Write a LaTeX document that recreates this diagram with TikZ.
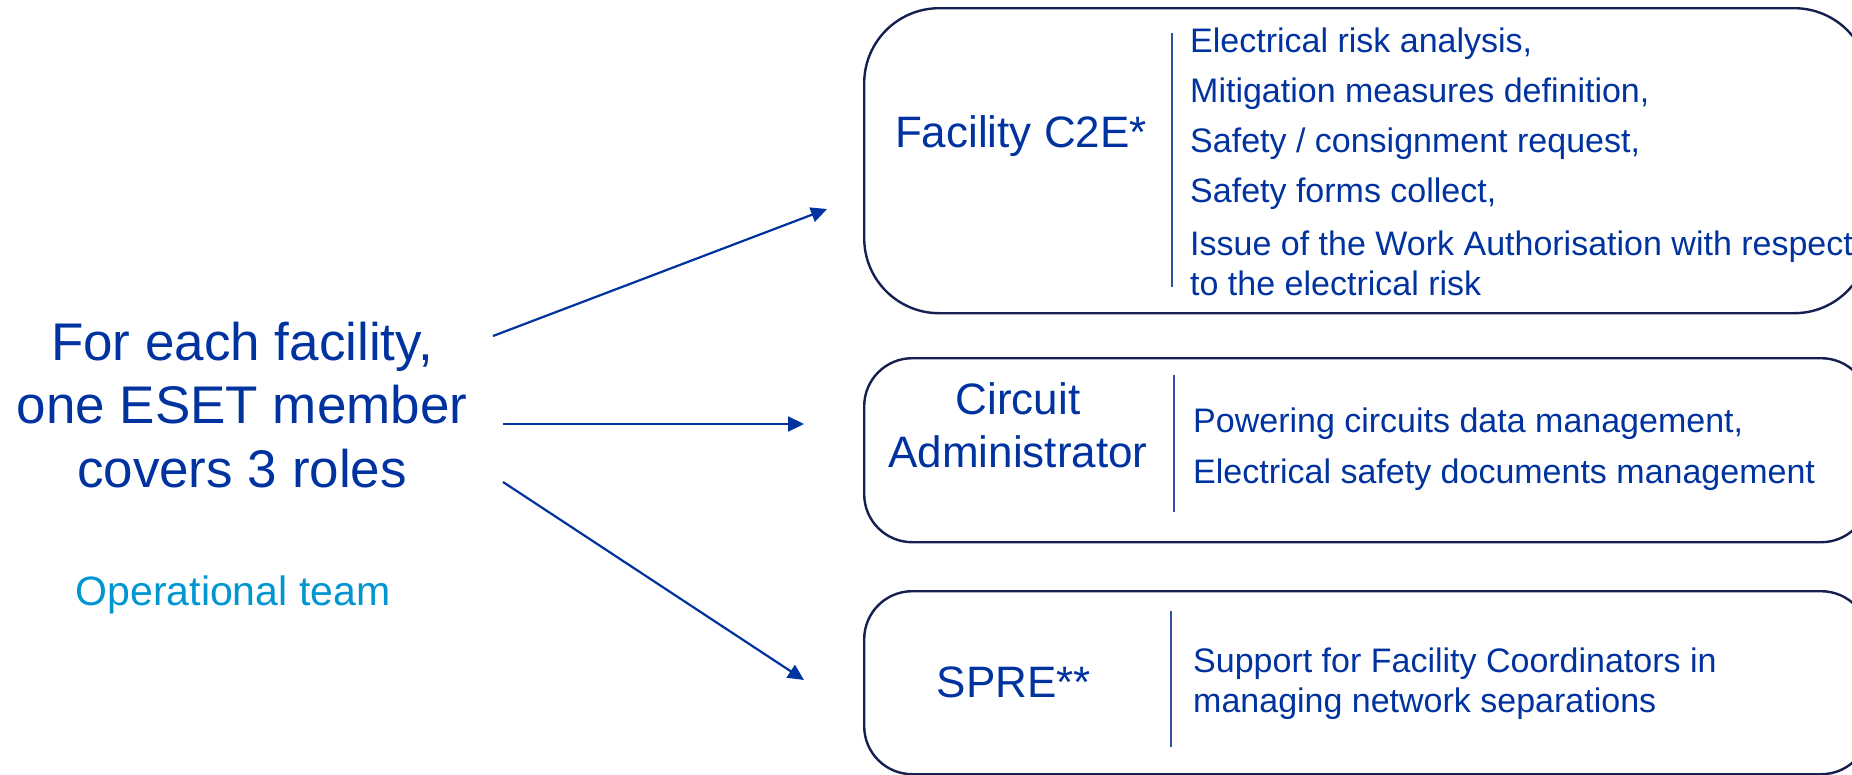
\documentclass[tikz,border=0pt]{standalone}
\usepackage{fontspec}
\setmainfont{Liberation Sans}
\usetikzlibrary{arrows.meta}
\definecolor{txtblue}{RGB}{0,51,160}
\definecolor{lightblue}{RGB}{0,150,210}
\definecolor{boxnavy}{RGB}{22,32,80}
\definecolor{divblue}{RGB}{50,80,165}
\tikzset{
  rolebox/.style={draw=boxnavy, line width=2.4pt, inner sep=0pt, anchor=north west, minimum width=1005pt},
  divider/.style={draw=divblue, line width=1.4pt},
  item/.style={text=txtblue, inner sep=0pt, anchor=base west, font=\fontsize{34}{40}\selectfont},
  title/.style={text=txtblue, inner sep=0pt, anchor=base, font=\fontsize{44}{52}\selectfont},
  lead/.style={text=txtblue, inner sep=0pt, anchor=base, font=\fontsize{53}{63}\selectfont},
  conn/.style={draw=txtblue, line width=2.2pt, -{Triangle[length=16pt,width=15pt]}}
}
\begin{document}
\begin{tikzpicture}[x=1pt,y=-1pt]
\useasboundingbox (0,0) rectangle (1852,774);
\fill[white] (0,0) rectangle (1852,774);
\begin{scope}
\clip (0,0) rectangle (1852,774);
% boxes
\node[rolebox, rounded corners=75pt, minimum height=305pt] (box1) at (863,7) {};
\node[rolebox, rounded corners=48pt, minimum height=184pt] (box2) at (863,357) {};
\node[rolebox, rounded corners=48pt, minimum height=183pt] (box3) at (863,590) {};
% dividers
\draw[divider] (1172,33) -- (1172,287);
\draw[divider] (1174,375) -- (1174,512);
\draw[divider] (1171,611) -- (1171,747);
% titles
\node[title] (t1) at (1021,147) {Facility C2E*};
\node[title] (t2a) at (1018,414) {Circuit};
\node[title] (t2b) at (1018,467) {Administrator};
\node[title] (t3) at (1014,697) {SPRE**};
% box 1 items
\node[item] (i11) at (1190,52) {Electrical risk analysis,};
\node[item] (i12) at (1190,102) {Mitigation measures definition,};
\node[item] (i13) at (1190,152) {Safety / consignment request,};
\node[item] (i14) at (1190,202) {Safety forms collect,};
\node[item] (i15) at (1190,255) {Issue of the Work Authorisation with respect};
\node[item] (i16) at (1190,295) {to the electrical risk};
% box 2 items
\node[item] (i21) at (1193,432) {Powering circuits data management,};
\node[item] (i22) at (1193,483) {Electrical safety documents management};
% box 3 items
\node[item] (i31) at (1193,672) {Support for Facility Coordinators in};
\node[item] (i32) at (1193,712) {managing network separations};
% left text
\node[lead] (l1) at (242,360) {For each facility,};
\node[lead] (l2) at (242,423) {one ESET member};
\node[lead] (l3) at (242,487) {covers 3 roles};
\node[text=lightblue, inner sep=0pt, anchor=base, font=\fontsize{41}{48}\selectfont] (op) at (233,605) {Operational team};
% arrows
\coordinate (s1) at (493,336);
\coordinate (e1) at (827,209);
\coordinate (s2) at (503,424);
\coordinate (e2) at (804,424);
\coordinate (s3) at (503,482);
\coordinate (e3) at (804,680);
\draw[conn] (s1) -- (e1);
\draw[conn] (s2) -- (e2);
\draw[conn] (s3) -- (e3);
\end{scope}
\end{tikzpicture}
\end{document}
